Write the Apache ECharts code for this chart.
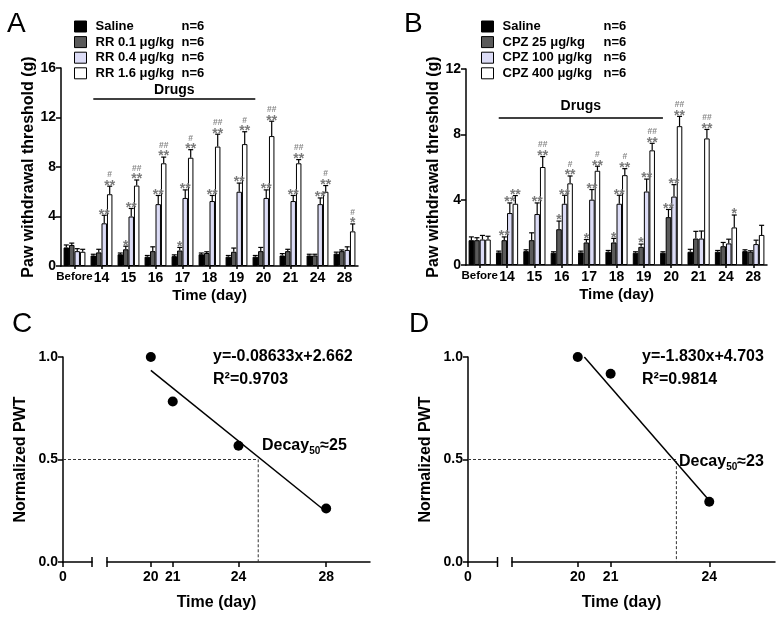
<!DOCTYPE html>
<html><head><meta charset="utf-8">
<script src="https://cdn.jsdelivr.net/npm/echarts@6/dist/echarts.min.js"></script>
<style>html,body{margin:0;padding:0;background:#fff}#c{width:778px;height:621px}</style>
</head><body><div id="c"></div>
<script>
// ---------------- DATA ----------------
const categories = ['Before','14','15','16','17','18','19','20','21','24','28'];
const namesA = ['Saline','RR 0.1 μg/kg','RR 0.4 μg/kg','RR 1.6 μg/kg'];
const namesB = ['Saline','CPZ 25 μg/kg','CPZ 100 μg/kg','CPZ 400 μg/kg'];
const groupSize = 'n=6';
const yTicksA = [0, 4, 8, 12, 16];
const yTicksB = [0, 4, 8, 12];

// Panel A (RR)
const salineA = [1.5, 0.85, 0.95, 0.75, 0.8, 0.95, 0.75, 0.75, 0.85, 0.85, 1.0];
const rr01   = [1.7, 1.1, 1.35, 1.2, 1.25, 1.05, 1.15, 1.2, 1.2, 0.85, 1.2];
const rr04   = [1.2, 3.45, 4.0, 5.0, 5.5, 5.25, 6.0, 5.5, 5.25, 5.0, 1.3];
const rr16   = [1.15, 5.8, 6.5, 8.3, 8.75, 9.65, 9.85, 10.5, 8.3, 6.0, 2.8];
const salineA_err = [0.2, 0.1, 0.1, 0.1, 0.1, 0.1, 0.1, 0.1, 0.15, 0.1, 0.12];
const rr01_err   = [0.15, 0.25, 0.25, 0.35, 0.25, 0.1, 0.3, 0.3, 0.15, 0.1, 0.1];
const rr04_err   = [0.2, 0.65, 0.65, 0.7, 0.65, 0.45, 0.7, 0.65, 0.45, 0.5, 0.25];
const rr16_err   = [0.2, 0.65, 0.45, 0.5, 0.65, 1.0, 1.0, 1.2, 0.3, 0.5, 0.6];
const starsA_saline = ['', '', '', '', '', '', '', '', '', '', ''];
const starsA_rr01 = ['', '', '*', '', '*', '', '', '', '', '', ''];
const starsA_rr04 = ['', '**', '**', '**', '**', '**', '**', '**', '**', '**', ''];
const starsA_rr16 = ['', '**', '**', '**', '**', '**', '**', '**', '**', '**', '*'];
const hashA_rr16  = ['', '#', '##', '##', '#', '##', '#', '##', '##', '#', '#'];
const drugsA = { from: '14', to: '20', level: 13.5, text: 'Drugs' };

// Panel B (CPZ)
const salineB = [1.52, 0.77, 0.85, 0.75, 0.77, 0.81, 0.75, 0.75, 0.81, 0.81, 0.85];
const cpz25  = [1.52, 1.52, 1.52, 2.19, 1.38, 1.38, 1.11, 2.93, 1.62, 1.15, 0.81];
const cpz100 = [1.56, 3.18, 3.12, 3.75, 4.0, 3.75, 4.5, 4.19, 1.62, 1.32, 1.28];
const cpz400 = [1.56, 3.75, 6.0, 5.0, 5.77, 5.5, 7.02, 8.5, 7.75, 2.3, 1.84];
const salineB_err = [0.2, 0.08, 0.08, 0.06, 0.08, 0.08, 0.06, 0.06, 0.15, 0.08, 0.08];
const cpz25_err  = [0.15, 0.2, 0.45, 0.5, 0.18, 0.25, 0.17, 0.47, 0.44, 0.23, 0.06];
const cpz100_err = [0.25, 0.62, 0.68, 0.52, 0.62, 0.52, 0.76, 0.73, 0.46, 0.26, 0.24];
const cpz400_err = [0.2, 0.5, 0.64, 0.45, 0.28, 0.4, 0.43, 0.6, 0.55, 0.76, 0.59];
const starsB_saline = ['', '', '', '', '', '', '', '', '', '', ''];
const starsB_cpz25  = ['', '**', '', '*', '*', '*', '*', '**', '', '', ''];
const starsB_cpz100 = ['', '**', '**', '**', '**', '**', '**', '**', '', '', ''];
const starsB_cpz400 = ['', '**', '**', '**', '**', '**', '**', '**', '**', '*', ''];
const hashB_cpz400  = ['', '', '##', '#', '#', '#', '##', '##', '##', '', ''];
const drugsB = { from: '14', to: '20', level: 9, text: 'Drugs' };

// Panel C (RR decay)
const daysC = [20, 21, 24, 28];
const normC = [1.0, 0.783, 0.567, 0.261];
const fitC = [[20, 0.935], [28, 0.245]];
const decayC = 24.9;
const eqC = 'y=-0.08633x+2.662';
const r2C = 'R²=0.9703';
const decayTextC = '25';
const xTicksC = [20, 21, 24, 28];

// Panel D (CPZ decay)
const daysD = [20, 21, 24];
const normD = [1.0, 0.918, 0.294];
const fitD = [[20.2, 1.0], [24, 0.3]];
const decayD = 23.0;
const eqD = 'y=-1.830x+4.703';
const r2D = 'R²=0.9814';
const decayTextD = '23';
const xTicksD = [20, 21, 24];
const halfLevel = 0.5;

// ---------------- STYLE / LAYOUT ----------------
const FF = "'Liberation Sans', Arial, Helvetica, sans-serif";
const colors = ['#000000', '#5a5a5a', '#dcdcf6', '#ffffff'];
const CAT_GAP = 0.19;
const gA  = { left: 61,  top: 68,  width: 297, height: 198 };
const gB  = { left: 466, top: 69,  width: 301, height: 196 };
const gC1 = { left: 63,  top: 357, width: 29,  height: 205 };
const gC2 = { left: 107, top: 357, width: 263, height: 205 };
const gD1 = { left: 468, top: 357, width: 29.5, height: 205 };
const gD2 = { left: 512, top: 357, width: 263, height: 205 };

const axisLineS = { show: true, lineStyle: { color: '#000', width: 1.5 } };
const tickS = (len) => ({ show: true, length: len, lineStyle: { color: '#000', width: 1.5 } });
const lblS = (size) => ({ color: '#000', fontWeight: 'bold', fontSize: size, fontFamily: FF });

const chart = echarts.init(document.getElementById('c'), null, { renderer: 'canvas' });

function barSeries(name, vals, idx, colorIdx, extra) {
  return Object.assign({
    type: 'bar', name, data: vals, xAxisIndex: idx, yAxisIndex: idx,
    barGap: '0%', barCategoryGap: (CAT_GAP * 100) + '%',
    itemStyle: { color: colors[colorIdx], borderColor: '#000', borderWidth: 1, opacity: 1 },
    emphasis: { disabled: true }, silent: true
  }, extra || {});
}

function errSeries(idx, vals, errs, stars, hashes) {
  const data = [], labels = [];
  for (let s = 0; s < vals.length; s++) {
    for (let c = 0; c < categories.length; c++) {
      data.push([c, s, vals[s][c], errs[s][c]]);
      labels.push([stars[s][c] || '', (hashes[s] && hashes[s][c]) || '']);
    }
  }
  return {
    type: 'custom', xAxisIndex: idx, yAxisIndex: idx, z: 5, silent: true, data,
    renderItem(params, api) {
      const c = api.value(0), s = api.value(1), v = api.value(2), e = api.value(3);
      const band = api.size([1, 0])[0];
      const grp = band * (1 - CAT_GAP);
      const bw = grp / 4;
      const x = api.coord([c, 0])[0] - grp / 2 + bw * (s + 0.5);
      const y0 = api.coord([c, v])[1];
      const y1 = api.coord([c, v + e])[1];
      const st = { stroke: '#000', lineWidth: 1.2 };
      const ch = [
        { type: 'line', shape: { x1: x, y1: y0, x2: x, y2: y1 }, style: st },
        { type: 'line', shape: { x1: x - 2.5, y1: y1, x2: x + 2.5, y2: y1 }, style: st }
      ];
      const lb = labels[params.dataIndex];
      if (lb[0]) ch.push({ type: 'text', x: x, y: y1 - 0.5, style: { text: lb[0], fill: '#7a7a7a', font: 'bold 14px ' + FF, textAlign: 'center', textVerticalAlign: 'middle' } });
      if (lb[1]) ch.push({ type: 'text', x: x, y: y1 - 11.5, style: { text: lb[1], fill: '#888', font: 'bold 8.5px ' + FF, textAlign: 'center', textVerticalAlign: 'middle' } });
      return { type: 'group', children: ch };
    }
  };
}

// dashed 0.5 reference: from the y axis of the left segment to the fit crossing, then down to 0
function refSeries(idx, xCross, yAxisLeftPx) {
  return {
    type: 'custom', xAxisIndex: idx, yAxisIndex: idx, z: 2, silent: true,
    data: [[xCross, halfLevel]],
    renderItem(params, api) {
      const p = api.coord([api.value(0), api.value(1)]);
      const b = api.coord([api.value(0), 0]);
      return { type: 'polyline', shape: { points: [[yAxisLeftPx, p[1]], [p[0], p[1]], [b[0], b[1]]] },
        style: { stroke: '#333', lineWidth: 1, lineDash: [3, 2], fill: null } };
    }
  };
}

function drugsMark(d, dist) {
  return {
    silent: true, symbol: 'none',
    lineStyle: { color: '#000', width: 1.5, type: 'solid' },
    label: { show: true, position: 'insideMiddleTop', distance: dist, formatter: d.text, color: '#000', fontWeight: 'bold', fontSize: 14, fontFamily: FF },
    data: [[{ coord: [d.from, d.level] }, { coord: [d.to, d.level] }]]
  };
}

function legendFor(names, left, nameWidth) {
  return {
    data: names, left: left, top: 14, orient: 'vertical', icon: 'rect',
    itemWidth: 12, itemHeight: 11, itemGap: 0.6, selectedMode: false,
    itemStyle: { borderColor: '#000', borderWidth: 1 },
    textStyle: {
      color: '#000', fontFamily: FF, fontWeight: 'bold', fontSize: 13, lineHeight: 15,
      rich: {
        a: { width: nameWidth, fontWeight: 'bold', fontSize: 13, fontFamily: FF, color: '#000', padding: [0, 0, 0, 4] },
        b: { fontWeight: 'bold', fontSize: 13, fontFamily: FF, color: '#000' }
      }
    },
    formatter: (n) => '{a|' + n + '}{b|' + groupSize + '}'
  };
}

const catXAxis = (idx) => ({
  type: 'category', gridIndex: idx, data: categories,
  axisLine: axisLineS, axisTick: Object.assign(tickS(3), { alignWithLabel: true }),
  axisLabel: {
    margin: 5, interval: 0,
    formatter: (v) => v === 'Before' ? '{s|Before}' : '{n|' + v + '}',
    rich: { s: lblS(11.5), n: lblS(14) }
  },
  name: 'Time (day)', nameLocation: 'middle', nameGap: 22,
  nameTextStyle: lblS(15)
});

const valYAxis = (idx, max, ticks) => ({
  type: 'value', gridIndex: idx, min: ticks[0], max: max, interval: ticks[1] - ticks[0],
  axisLine: axisLineS, axisTick: tickS(5), splitLine: { show: false },
  axisLabel: Object.assign(lblS(14), { margin: 5 }),
  name: 'Paw withdrawal threshold (g)', nameLocation: 'middle', nameGap: 19,
  nameTextStyle: lblS(16)
});

const normYAxis = (idx) => ({
  type: 'value', gridIndex: idx, min: 0, max: 1, interval: 0.5,
  axisLine: axisLineS, axisTick: tickS(5), splitLine: { show: false },
  axisLabel: Object.assign(lblS(14), { margin: 5, formatter: (v) => v.toFixed(1) }),
  name: 'Normalized PWT', nameLocation: 'middle', nameGap: 34,
  nameTextStyle: lblS(16)
});

const hiddenY = (idx) => ({ type: 'value', gridIndex: idx, min: 0, max: 1, show: false });

const segX = (idx, min, max, ticks) => ({
  type: 'value', gridIndex: idx, min, max,
  axisLine: axisLineS, splitLine: { show: false },
  axisTick: Object.assign(tickS(5), { customValues: ticks }),
  axisLabel: Object.assign(lblS(14), { margin: 8, customValues: ticks })
});

const lineS = (name, data, idx, style) => ({
  type: 'line', name, data, xAxisIndex: idx, yAxisIndex: idx, symbol: 'none',
  lineStyle: style, silent: true, z: 3
});
const scatterS = (name, xs, ys, idx) => ({
  type: 'scatter', name, xAxisIndex: idx, yAxisIndex: idx, symbolSize: 10, z: 4, silent: true,
  itemStyle: { color: '#000', opacity: 1 },
  data: xs.map((d, i) => [d, ys[i]])
});

// break caps and text graphics
function cap(x, y) { return { type: 'line', shape: { x1: x, y1: y - 5, x2: x, y2: y + 5 }, style: { stroke: '#000', lineWidth: 1.5 } }; }
const txt = (x, y, text, size, weight, align, rich) => ({
  type: 'text', x, y, z: 10,
  style: { text, font: (weight || 'bold') + ' ' + size + 'px ' + FF, fill: '#000', textAlign: align || 'left', textVerticalAlign: 'middle', rich }
});
const decayRich = {
  a: { fontSize: 16, fontWeight: 'bold', fontFamily: FF, fill: '#000' },
  s: { fontSize: 10, fontWeight: 'bold', fontFamily: FF, fill: '#000', padding: [10, 0, 0, 0] }
};
const cBase = gC1.top + gC1.height, dBase = gD1.top + gD1.height;

const option = {
  animation: false,
  backgroundColor: '#fff',
  textStyle: { fontFamily: FF },
  grid: [gA, gB, gC1, gC2, gD1, gD2].map(g => Object.assign({ outerBoundsMode: 'none', containLabel: false }, g)),
  legend: [legendFor(namesA, 69, 86), legendFor(namesB, 476, 101)],
  xAxis: [
    catXAxis(0), catXAxis(1),
    segX(2, 0, 1, [0]), segX(3, 18, 30, xTicksC),
    segX(4, 0, 1, [0]), segX(5, 18, 26, xTicksD)
  ],
  yAxis: [
    valYAxis(0, 16, yTicksA), valYAxis(1, 12, yTicksB),
    normYAxis(2), hiddenY(3), normYAxis(4), hiddenY(5)
  ],
  series: [
    barSeries(namesA[0], salineA, 0, 0, { markLine: drugsMark(drugsA, 2) }),
    barSeries(namesA[1], rr01, 0, 1),
    barSeries(namesA[2], rr04, 0, 2),
    barSeries(namesA[3], rr16, 0, 3),
    errSeries(0, [salineA, rr01, rr04, rr16], [salineA_err, rr01_err, rr04_err, rr16_err],
      [starsA_saline, starsA_rr01, starsA_rr04, starsA_rr16], [null, null, null, hashA_rr16]),
    barSeries(namesB[0], salineB, 1, 0, { markLine: drugsMark(drugsB, 5) }),
    barSeries(namesB[1], cpz25, 1, 1),
    barSeries(namesB[2], cpz100, 1, 2),
    barSeries(namesB[3], cpz400, 1, 3),
    errSeries(1, [salineB, cpz25, cpz100, cpz400], [salineB_err, cpz25_err, cpz100_err, cpz400_err],
      [starsB_saline, starsB_cpz25, starsB_cpz100, starsB_cpz400], [null, null, null, hashB_cpz400]),
    // Panel C
    refSeries(3, decayC, gC1.left),
    lineS('fitC', fitC, 3, { color: '#000', width: 1.5 }),
    scatterS('ptsC', daysC, normC, 3),
    // Panel D
    refSeries(5, decayD, gD1.left),
    lineS('fitD', fitD, 5, { color: '#000', width: 1.5 }),
    scatterS('ptsD', daysD, normD, 5)
  ],
  graphic: [
    txt(7, 24, 'A', 28, 'normal'),
    txt(404, 24, 'B', 28, 'normal'),
    txt(12, 324, 'C', 28, 'normal'),
    txt(409, 324, 'D', 28, 'normal'),
    cap(gC1.left + gC1.width, cBase), cap(gC2.left, cBase),
    cap(gD1.left + gD1.width, dBase), cap(gD2.left, dBase),
    txt((gC1.left + gC2.left + gC2.width) / 2, 603, 'Time (day)', 16, 'bold', 'center'),
    txt((gD1.left + gD2.left + gD2.width) / 2, 603, 'Time (day)', 16, 'bold', 'center'),
    txt(213, 357, eqC, 16),
    txt(213, 380, r2C, 16),
    txt(262, 446, '{a|Decay}{s|50}{a|≈' + decayTextC + '}', 16, 'bold', 'left', decayRich),
    txt(642, 357, eqD, 16),
    txt(642, 380, r2D, 16),
    txt(679, 462, '{a|Decay}{s|50}{a|≈' + decayTextD + '}', 16, 'bold', 'left', decayRich)
  ]
};
chart.setOption(option);
</script>
</body></html>
